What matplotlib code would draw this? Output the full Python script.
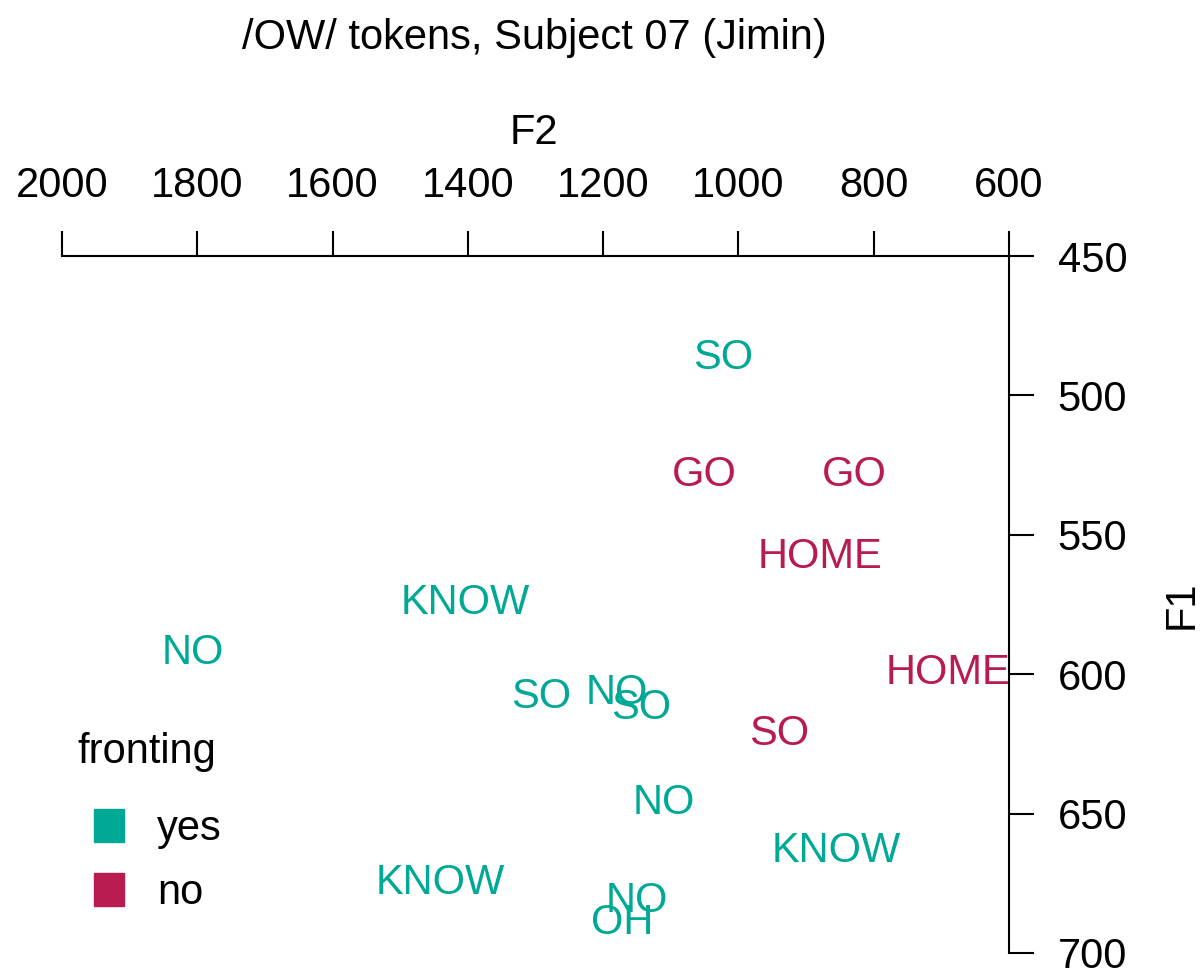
import matplotlib.pyplot as plt
from matplotlib.patches import Rectangle
from matplotlib.transforms import offset_copy

plt.rcParams['font.family'] = ['Liberation Sans', 'DejaVu Sans']

# 数据：F2 / F1 (Hz)，词，是否前化
words = ['SO', 'GO', 'GO', 'HOME', 'KNOW', 'NO', 'HOME', 'SO', 'NO', 'SO',
         'SO', 'NO', 'KNOW', 'KNOW', 'NO', 'OH']
f2 = [1023, 1051, 829, 879, 1404, 1806, 690, 1292, 1180, 1144,
      940, 1110, 856, 1441, 1150, 1172]
f1 = [485.5, 527.5, 527.5, 557, 573.4, 591.3, 598.5, 607, 605.7, 611,
      620.4, 645, 662.3, 673.8, 680.3, 688.2]
fronting = ['yes', 'no', 'no', 'no', 'yes', 'yes', 'no', 'yes', 'yes', 'yes',
            'no', 'yes', 'yes', 'yes', 'yes', 'yes']

x_ticks = [2000, 1800, 1600, 1400, 1200, 1000, 800, 600]
y_ticks = [450, 500, 550, 600, 650, 700]
colors = {'yes': '#00A896', 'no': '#B81B50'}
FS = 30

W, H = 1201, 969
fig = plt.figure(figsize=(W / 100, H / 100), dpi=100)
ax = fig.add_axes([62 / W, (H - 953) / H, 947 / W, 697 / H])
ax.set_xlim(2000, 600)
ax.set_ylim(700, 450)

# matplotlib 的 center 偏上一点，往下挪几个像素
tr = offset_copy(ax.transData, fig=fig, x=0, y=-3, units='dots')
for w, x, y, g in zip(words, f2, f1, fronting):
    ax.text(x, y, w, color=colors[g], fontsize=FS, ha='center', va='center',
            clip_on=False, transform=tr)

# 坐标轴：上边 F2，右边 F1
for s in ['left', 'bottom']:
    ax.spines[s].set_visible(False)
ax.spines['top'].set_linewidth(1.5)
ax.spines['right'].set_linewidth(1.5)
ax.xaxis.tick_top()
ax.yaxis.tick_right()
ax.set_xticks(x_ticks)
ax.set_yticks(y_ticks)
ax.tick_params(axis='x', length=18, width=1.5, pad=18, labelsize=FS)
ax.tick_params(axis='y', length=18, width=1.5, pad=17, labelsize=FS)
ax.patch.set_visible(False)

fig.text(534 / W, 1 - 38 / H, '/OW/ tokens, Subject 07 (Jimin)', fontsize=FS,
         ha='center', va='center')
fig.text(534 / W, 1 - 133 / H, 'F2', fontsize=FS, ha='center', va='center')
fig.text(1182 / W, 1 - 605 / H, 'F1', fontsize=FS, ha='center', va='center',
         rotation=90)

# 图例
fig.text(77 / W, 1 - 752 / H, 'fronting', fontsize=FS, ha='left', va='center')
for i, (lab, c) in enumerate(colors.items()):
    yc = 826 + i * 64
    fig.patches.append(Rectangle((94 / W, 1 - (yc + 16) / H), 30 / W, 33 / H,
                                 color=c, transform=fig.transFigure))
    fig.text(157 / W, 1 - (yc + 3) / H, lab, fontsize=FS, ha='left', va='center')

fig.savefig('out.png', dpi=100)
